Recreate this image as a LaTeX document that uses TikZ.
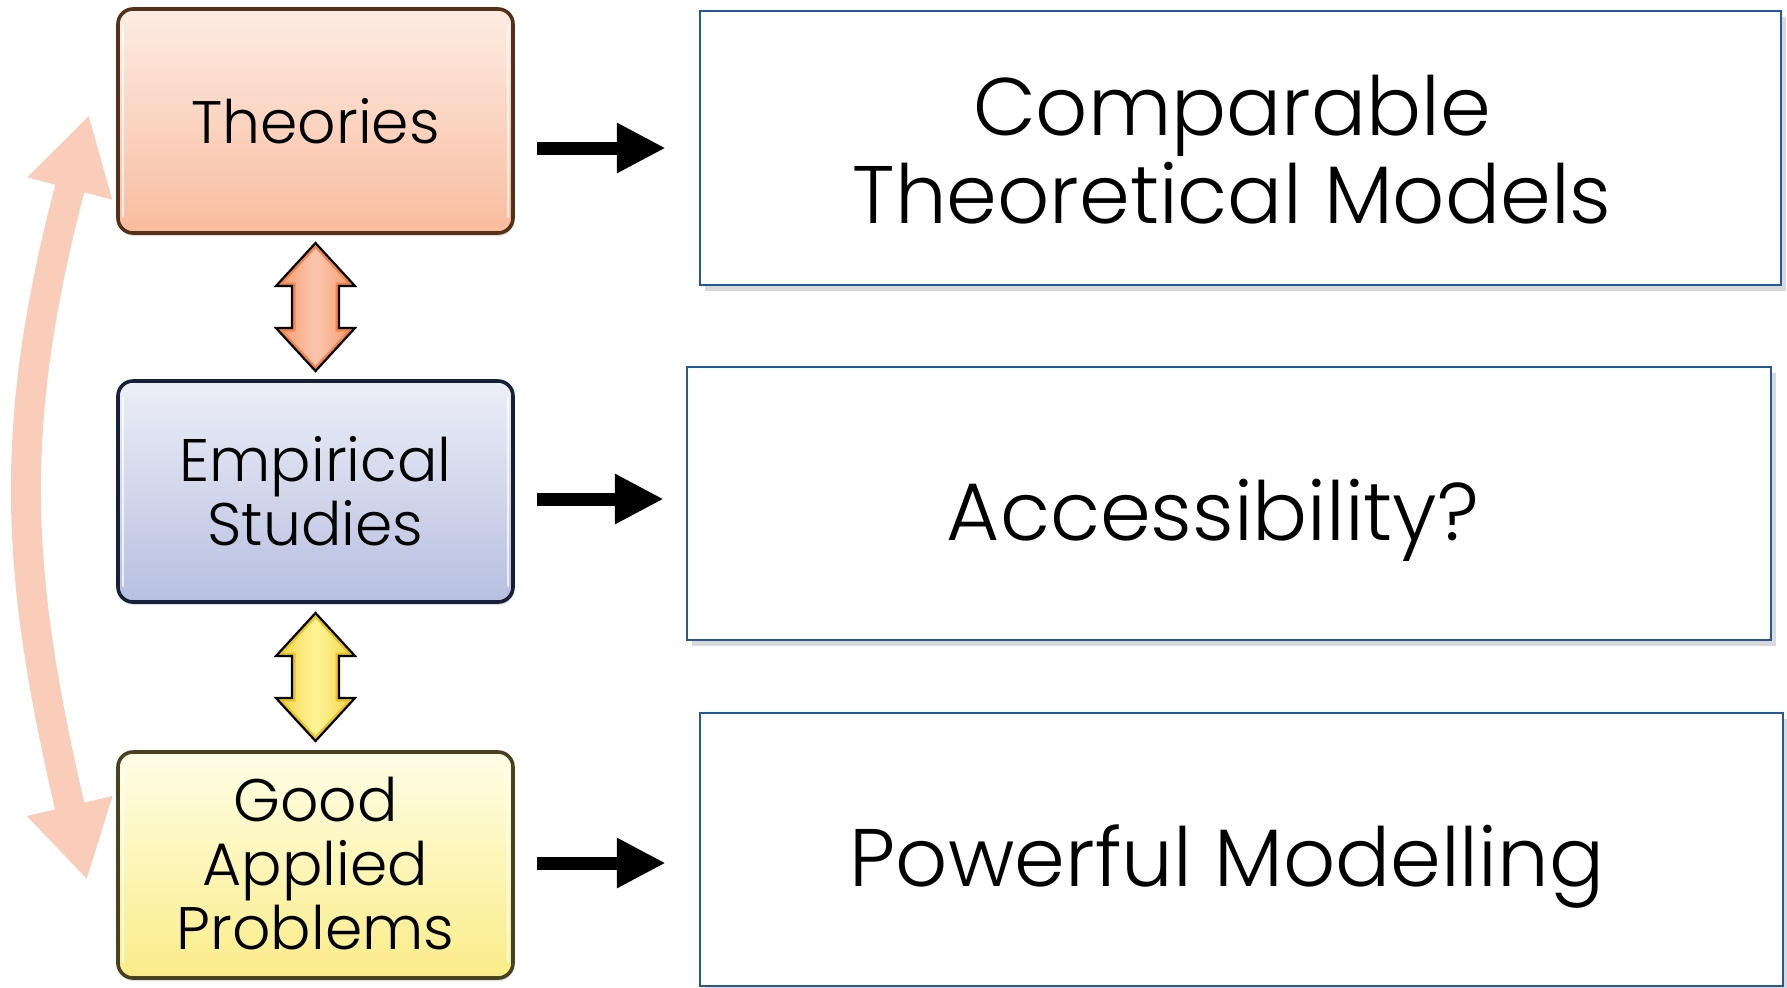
\documentclass[tikz,border=0pt]{standalone}
\usepackage{fontspec}
\setmainfont{Poppins Light}
\usetikzlibrary{arrows.meta,shadows,calc}

\definecolor{theoTop}{RGB}{253,236,228}
\definecolor{theoBot}{RGB}{249,188,158}
\definecolor{theoEdge}{RGB}{84,48,24}
\definecolor{empTop}{RGB}{236,238,247}
\definecolor{empBot}{RGB}{183,191,224}
\definecolor{empEdge}{RGB}{22,32,56}
\definecolor{goodTop}{RGB}{255,254,230}
\definecolor{goodBot}{RGB}{250,236,136}
\definecolor{goodEdge}{RGB}{72,64,30}
\definecolor{frameBlue}{RGB}{36,88,154}
\definecolor{loopSalmon}{RGB}{250,205,186}
\definecolor{dblOrangeFill}{RGB}{251,198,174}
\definecolor{dblOrangeRim}{RGB}{240,134,78}
\definecolor{dblYellowFill}{RGB}{255,244,150}
\definecolor{dblYellowRim}{RGB}{232,196,40}

\tikzset{
  % vertical two-headed block arrow between the stage boxes
  pics/updown/.style 2 args={code={
    \begin{scope}
      \clip (0,-64) -- (39.5,-21) -- (23.5,-21) -- (23.5,21) -- (39.5,21) -- (0,64)
            -- (-39.5,21) -- (-23.5,21) -- (-23.5,-21) -- (-39.5,-21) -- cycle;
      \shade[left color=#2!70!#1, right color=#2!70!#1, middle color=#1] (-40,-65) rectangle (40,65);
      \draw[#2, line width=3.5pt, line join=miter]
            (0,-64) -- (39.5,-21) -- (23.5,-21) -- (23.5,21) -- (39.5,21) -- (0,64)
            -- (-39.5,21) -- (-23.5,21) -- (-23.5,-21) -- (-39.5,-21) -- cycle;
    \end{scope}
    \draw[black, line width=1.1pt, line join=miter]
          (0,-64) -- (39.5,-21) -- (23.5,-21) -- (23.5,21) -- (39.5,21) -- (0,64)
          -- (-39.5,21) -- (-23.5,21) -- (-23.5,-21) -- (-39.5,-21) -- cycle;
  }}
}

\begin{document}
\begin{tikzpicture}[x=0.5pt,y=-0.5pt,
  stage/.style={rounded corners=7.5pt, line width=1.8pt, minimum width=197.5pt,
    inner sep=0pt, drop shadow={shadow xshift=0.5pt, shadow yshift=-1.5pt, opacity=0.25}},
  outcome/.style={draw=frameBlue, fill=white, line width=1.25pt, inner sep=0pt,
    drop shadow={shadow xshift=2.5pt, shadow yshift=-3pt, opacity=0.3}},
  smalltxt/.style={font=\fontsize{30}{32}\selectfont, align=center, text depth=0pt, inner sep=0pt},
  bigtxt/.style={font=\fontsize{40.8}{44}\selectfont, align=center, text depth=0pt, inner sep=0pt},
  blk/.style={line width=6.5pt, -{Triangle[length=24.5pt, width=23.5pt]}},
  loop/.style={draw=loopSalmon, line width=15pt,
    {Triangle[length=38pt,width=41pt]}-{Triangle[length=38pt,width=41pt]}},
  gloss/.style={white, opacity=0.75, line width=1.2pt, line cap=round},
]
\useasboundingbox (0,0) rectangle (1787,987);

% stage boxes on the left
\node[stage, draw=theoEdge, top color=theoTop, bottom color=theoBot, minimum height=112pt] (theo) at (315.5,121) {};
\node[stage, draw=empEdge, top color=empTop, bottom color=empBot, minimum height=110.5pt] (emp) at (315.5,491.5) {};
\node[stage, draw=goodEdge, top color=goodTop, bottom color=goodBot, minimum height=113pt] (good) at (315.5,865) {};

% glossy edge highlights
\foreach \b in {theo,emp,good}{
  \draw[gloss] ([xshift=3.5pt,yshift=-9pt]\b.north west) -- ([xshift=3.5pt,yshift=9pt]\b.south west);
  \draw[gloss] ([xshift=-3.5pt,yshift=-9pt]\b.north east) -- ([xshift=-3.5pt,yshift=9pt]\b.south east);
}

\node[smalltxt] (theoT) at (315.5,121) {Theories};
\node[smalltxt] (empT) at (315.5,491) {Empirical\\Studies};
\node[smalltxt] (goodT) at (315.5,863) {Good\\Applied\\Problems};

% outcome boxes on the right
\node[outcome, minimum width=540.5pt, minimum height=137pt] (cmp) at (1240.5,148) {};
\node[outcome, minimum width=542pt, minimum height=136.5pt] (acc) at (1229,503.5) {};
\node[outcome, minimum width=541.5pt, minimum height=136.5pt] (pow) at (1241.5,849.5) {};

\node[bigtxt] (cmpT) at (1232,149) {Comparable\\Theoretical Models};
\node[bigtxt] (accT) at (1213,510) {Accessibility?};
\node[bigtxt] (powT) at (1227,856) {Powerful Modelling};

% stage -> outcome arrows
\draw[blk, shorten <=11pt, shorten >=16.5pt] (theo.east |- cmp.west) -- (cmp.west);
\draw[blk, shorten <=11pt, shorten >=11pt] ([yshift=-3.75pt]emp.east) -- ([yshift=-3.75pt]emp.east -| acc.west);
\draw[blk, shorten <=11pt, shorten >=16.5pt] ([yshift=1pt]good.east) -- ([yshift=1pt]good.east -| pow.west);

% two-way links between neighbouring stages
\pic at ($(theo.south)!0.5!(emp.north)$) {updown={dblOrangeFill}{dblOrangeRim}};
\pic at ($(emp.south)!0.5!(good.north)$) {updown={dblYellowFill}{dblYellowRim}};

% long two-way loop between theories and applied problems
\coordinate (loopTop) at (89,115);
\coordinate (loopBot) at (87,880);
\draw[loop] (loopBot) .. controls (14,568) and (8,424) .. (loopTop);

\end{tikzpicture}
\end{document}
